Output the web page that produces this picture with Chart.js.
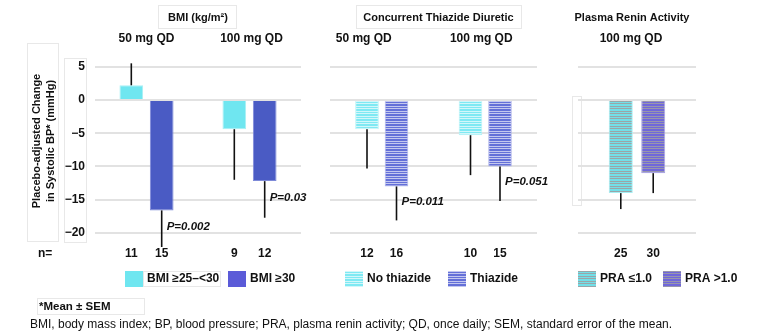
<!DOCTYPE html>
<html>
<head>
<meta charset="utf-8">
<script src="https://cdn.jsdelivr.net/npm/chart.js@4.4.1/dist/chart.umd.min.js"></script>
<style>
html, body { margin: 0; padding: 0; background: #fff; }
#wrap { position: relative; width: 758px; height: 334px; }
#wrap canvas { position: absolute; left: 0; top: 0; }
</style>
</head>
<body>
<div id="wrap">
    <canvas id="chart1" width="758" height="334"></canvas>
    <canvas id="chart2" width="758" height="334"></canvas>
    <canvas id="chart3" width="758" height="334"></canvas>
</div>
<script>
// eixo y comum
const yTicks = [5, 0, -5, -10, -15, -20];

// painel 1 - IMC
const bmiDoses = ['50 mg QD', '100 mg QD'];
const bmiLow = [2.2, -4.4];
const bmiLowSem = [3.3, 7.6];
const bmiLowN = [11, 9];
const bmiHigh = [-16.6, -12.2];
const bmiHighSem = [5.5, 5.5];
const bmiHighN = [15, 12];
const bmiP = ['P=0.002', 'P=0.03'];

// painel 2 - tiazídico
const thzDoses = ['50 mg QD', '100 mg QD'];
const noThz = [-4.4, -5.3];
const noThzSem = [5.9, 6.0];
const noThzN = [12, 10];
const thz = [-13.0, -10.0];
const thzSem = [5.1, 5.2];
const thzN = [16, 15];
const thzP = ['P=0.011', 'P=0.051'];

// painel 3 - renina
const praDoses = ['100 mg QD'];
const praLow = [-14.0];
const praLowSem = [2.4];
const praLowN = [25];
const praHigh = [-11.0];
const praHighSem = [3.0];
const praHighN = [30];

const FONT = '"Liberation Sans", Arial, sans-serif';

// padrão de listras horizontais
function stripes(c, l) {
    const cv = document.createElement('canvas');
    cv.width = 4; cv.height = 5;
    const g = cv.getContext('2d');
    const rows = [c, l, c, l, c];
    rows.forEach((col, i) => { g.fillStyle = col; g.fillRect(0, i, 4, 1); });
    return g.createPattern(cv, 'repeat');
}

function faintBox(ctx, x1, y1, x2, y2) {
    ctx.save();
    ctx.strokeStyle = '#e8e8e8';
    ctx.lineWidth = 1;
    ctx.strokeRect(x1 + 0.5, y1 + 0.5, x2 - x1, y2 - y1);
    ctx.restore();
}

function makePanel(id, cfg) {
    const decor = {
        id: 'decor' + id,
        afterDatasetsDraw(chart) {
            const ctx = chart.ctx;
            const y = chart.scales.y;
            const x = chart.scales.x;
            const area = chart.chartArea;
            ctx.save();
            // barras de erro, n e valores P
            chart.data.datasets.forEach((ds, di) => {
                chart.getDatasetMeta(di).data.forEach((bar, i) => {
                    const v = ds.data[i];
                    const end = v >= 0 ? v + ds.sem[i] : v - ds.sem[i];
                    const y0 = y.getPixelForValue(v);
                    const y1 = y.getPixelForValue(end);
                    ctx.strokeStyle = '#111';
                    ctx.lineWidth = 1.6;
                    ctx.beginPath();
                    ctx.moveTo(bar.x, y0);
                    ctx.lineTo(bar.x, y1);
                    ctx.stroke();

                    ctx.fillStyle = '#111';
                    ctx.font = 'bold 12px ' + FONT;
                    ctx.textAlign = 'center';
                    ctx.textBaseline = 'middle';
                    ctx.fillText(String(ds.n[i]), bar.x, 254);

                    if (ds.p) {
                        ctx.font = 'italic bold 11.5px ' + FONT;
                        ctx.textAlign = 'left';
                        ctx.fillText(ds.p[i], bar.x + 5, (y0 + y1) / 2 - 2);
                    }
                });
            });

            // títulos
            ctx.fillStyle = '#111';
            ctx.textAlign = 'center';
            ctx.textBaseline = 'middle';
            ctx.font = 'bold 11px ' + FONT;
            ctx.fillText(cfg.title, (area.left + area.right) / 2 + (cfg.titleShift || 0), 18);
            if (cfg.titleBox) faintBox(ctx, ...cfg.titleBox);
            ctx.font = 'bold 12px ' + FONT;
            chart.data.labels.forEach((lab, i) => {
                ctx.fillText(lab, x.getPixelForValue(i) + (cfg.doseShift ? cfg.doseShift[i] : 0), 39);
            });

            // legenda
            cfg.legend.forEach(item => {
                ctx.fillStyle = item.color;
                ctx.fillRect(item.x, 271, 18, 16);
                ctx.fillStyle = '#111';
                ctx.font = 'bold 12px ' + FONT;
                ctx.textAlign = 'left';
                ctx.fillText(item.label, item.x + 22, 279);
            });

            if (cfg.extra) cfg.extra(ctx, chart);
            ctx.restore();
        }
    };

    return new Chart(document.getElementById(id), {
        type: 'bar',
        data: { labels: cfg.labels, datasets: cfg.datasets },
        options: {
            responsive: false,
            devicePixelRatio: 1,
            animation: false,
            categoryPercentage: cfg.cp,
            barPercentage: cfg.bp,
            layout: { padding: { left: cfg.left, right: 758 - cfg.right, top: 60, bottom: 81 } },
            plugins: { legend: { display: false }, tooltip: { enabled: false } },
            scales: {
                x: { display: false },
                y: {
                    min: -23,
                    max: 6,
                    afterBuildTicks: s => { s.ticks = yTicks.map(v => ({ value: v })); },
                    afterFit: s => { s.width = cfg.axisWidth; },
                    border: { display: false },
                    grid: { color: '#e2e2e2', lineWidth: 2, drawTicks: false },
                    ticks: {
                        display: cfg.showTicks,
                        padding: 10,
                        color: '#111',
                        font: { family: FONT, size: 12, weight: 'bold' },
                        callback: v => v < 0 ? '\u2212' + Math.abs(v) : String(v)
                    }
                }
            }
        },
        plugins: [decor]
    });
}

const cyan = '#6fe6f0';
const blue = '#4a5bc4';

// Painel 1 - IMC
makePanel('chart1', {
    labels: bmiDoses,
    left: 0, right: 301, axisWidth: 95, showTicks: true,
    cp: 0.59, bp: 0.78,
    title: 'BMI (kg/m\u00b2)', titleBox: [158, 5, 236, 28],
    doseShift: [0, 2],
    datasets: [
        { label: 'BMI \u226525\u2013<30', data: bmiLow, sem: bmiLowSem, n: bmiLowN,
          backgroundColor: cyan, borderColor: '#a8f0f5', borderWidth: 1 },
        { label: 'BMI \u226530', data: bmiHigh, sem: bmiHighSem, n: bmiHighN, p: bmiP,
          backgroundColor: blue, borderColor: '#7e8ad8', borderWidth: 1 }
    ],
    legend: [
        { x: 125, label: 'BMI \u226525\u2013<30', color: cyan },
        { x: 228, label: 'BMI \u226530', color: '#5b5bd8' }
    ],
    extra(ctx) {
        // título do eixo y
        ctx.save();
        ctx.translate(44, 141);
        ctx.rotate(-Math.PI / 2);
        ctx.fillStyle = '#111';
        ctx.font = 'bold 11px ' + FONT;
        ctx.textAlign = 'center';
        ctx.textBaseline = 'middle';
        ctx.fillText('Placebo-adjusted Change', 0, -7);
        ctx.fillText('in Systolic BP* (mmHg)', 0, 7);
        ctx.restore();
        faintBox(ctx, 27, 43, 58, 241);
        faintBox(ctx, 64, 58, 86, 242);
        faintBox(ctx, 143, 271, 220, 286);
        faintBox(ctx, 572, 96, 581, 205);

        ctx.fillStyle = '#111';
        ctx.textBaseline = 'middle';
        ctx.textAlign = 'left';
        ctx.font = 'bold 12px ' + FONT;
        ctx.fillText('n=', 38, 254);

        ctx.font = 'bold 11.5px ' + FONT;
        ctx.fillText('*Mean \u00b1 SEM', 39, 307);
        faintBox(ctx, 37, 298, 144, 314);
        ctx.font = '12px ' + FONT;
        ctx.fillText('BMI, body mass index; BP, blood pressure; PRA, plasma renin activity; QD, once daily; SEM, standard error of the mean.', 30, 325);
    }
});

// Painel 2 - diurético tiazídico
const noThzPat = stripes('#7fe9f3', '#d2f7fa');
const thzPat = stripes('#6470d8', '#c3c7ef');
makePanel('chart2', {
    labels: thzDoses,
    left: 330, right: 537, axisWidth: 0, showTicks: false,
    cp: 0.57, bp: 0.8,
    title: 'Concurrent Thiazide Diuretic', titleShift: 5, titleBox: [356, 5, 521, 28],
    doseShift: [-18, -4],
    datasets: [
        { label: 'No thiazide', data: noThz, sem: noThzSem, n: noThzN,
          backgroundColor: noThzPat, borderColor: '#b8f2f6', borderWidth: 1 },
        { label: 'Thiazide', data: thz, sem: thzSem, n: thzN, p: thzP,
          backgroundColor: thzPat, borderColor: '#b0b6ea', borderWidth: 1 }
    ],
    legend: [
        { x: 345, label: 'No thiazide', color: noThzPat },
        { x: 448, label: 'Thiazide', color: thzPat }
    ]
});

// Painel 3 - atividade de renina
const praLowPat = stripes('#72dfe8', '#9aa5a8');
const praHighPat = stripes('#7068da', '#9896ad');
makePanel('chart3', {
    labels: praDoses,
    left: 578, right: 696, axisWidth: 0, showTicks: false,
    cp: 0.55, bp: 0.74,
    title: 'Plasma Renin Activity', titleShift: -5,
    doseShift: [-6],
    datasets: [
        { label: 'PRA \u22641.0', data: praLow, sem: praLowSem, n: praLowN,
          backgroundColor: praLowPat, borderColor: '#a6eef3', borderWidth: 1 },
        { label: 'PRA >1.0', data: praHigh, sem: praHighSem, n: praHighN,
          backgroundColor: praHighPat, borderColor: '#a8a4e0', borderWidth: 1 }
    ],
    legend: [
        { x: 578, label: 'PRA \u22641.0', color: praLowPat },
        { x: 663, label: 'PRA >1.0', color: praHighPat }
    ]
});
</script>
</body>
</html>
